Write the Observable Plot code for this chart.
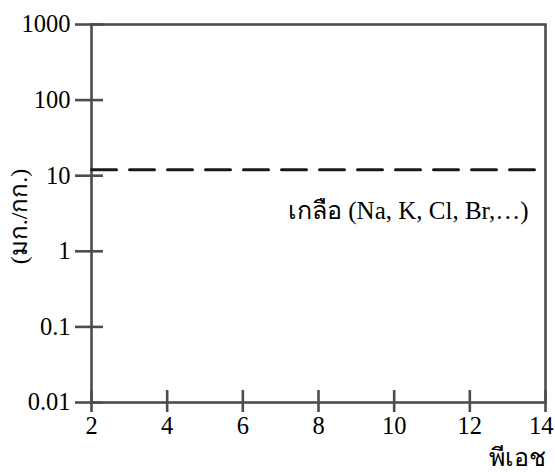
<!DOCTYPE html>
<html>
<head>
<meta charset="utf-8">
<script src="https://cdn.jsdelivr.net/npm/d3@7"></script>
<script src="https://cdn.jsdelivr.net/npm/@observablehq/plot@0.6"></script>
<style>
  html, body { margin: 0; padding: 0; background: #fff; }
  #chart svg { display: block; }
</style>
</head>
<body>
<div id="chart"></div>
<script>
// pH axis ticks
const phTicks = [2, 4, 6, 8, 10, 12, 14];
const phTickLabels = ["2", "4", "6", "8", "10", "12", "14"];

// concentration axis ticks (log scale)
const concTicks = [0.01, 0.1, 1, 10, 100, 1000];
const concTickLabels = ["0.01", "0.1", "1", "10", "100", "1000"];

// salt concentration level, constant across pH
const saltPh = [2, 14];
const saltLevel = [12, 12];
const saltLabel = "เกลือ (Na, K, Cl, Br,…)";

const yTitle = "(มก./กก.)";
const xTitle = "พีเอช";

const saltData = saltPh.map((x, i) => ({x, y: saltLevel[i]}));

const W = 555, H = 472;
const mL = 91, mR = 10, mT = 24, mB = 70;
const fw = W - mL - mR, fh = H - mT - mB;
const axisColor = "#4d4d4d";
const font = "'Liberation Serif', 'Times New Roman', serif";

// the last pH label sits against the right edge, so it is end-anchored
const lastPh = phTicks.length - 1;
const phInner = phTicks.map((x, i) => ({x, label: phTickLabels[i]})).slice(0, lastPh);
const phEdge = [{x: phTicks[lastPh], label: phTickLabels[lastPh]}];

const chart = Plot.plot({
  width: W,
  height: H,
  marginLeft: mL,
  marginRight: mR,
  marginTop: mT,
  marginBottom: mB,
  style: {fontFamily: font, fontSize: "24px", color: "#000", background: "#fff"},
  x: {domain: [2, 14], axis: null},
  y: {type: "log", domain: [0.01, 1000], axis: null},
  marks: [
    Plot.frame({stroke: axisColor, strokeWidth: 2.6}),
    // y tick marks crossing the left axis
    Plot.tickY(concTicks, {y: d => d, stroke: axisColor, strokeWidth: 2.6, insetLeft: -16, insetRight: fw - 12}),
    // x tick marks crossing the bottom axis
    Plot.tickX(phTicks, {x: d => d, stroke: axisColor, strokeWidth: 2.6, insetTop: fh - 12, insetBottom: -10}),
    // tick labels
    Plot.text(concTicks, {y: d => d, frameAnchor: "left", text: (d, i) => concTickLabels[i], textAnchor: "end", lineAnchor: "middle", dx: -21, fontSize: 24.5, fill: "#000"}),
    Plot.text(phInner, {x: "x", frameAnchor: "bottom", text: "label", textAnchor: "middle", lineAnchor: "middle", dy: 24, fontSize: 24.5, fill: "#000"}),
    Plot.text(phEdge, {x: "x", frameAnchor: "bottom", text: "label", textAnchor: "end", lineAnchor: "middle", dx: 8, dy: 24, fontSize: 24.5, fill: "#000"}),
    // salt level
    Plot.line(saltData, {x: "x", y: "y", stroke: "#1a1a1a", strokeWidth: 3, strokeDasharray: "25,13"}),
    Plot.text([saltLabel], {x: 14, y: saltLevel[0], text: d => d, textAnchor: "end", lineAnchor: "middle", dx: -17, dy: 41, fontSize: 25, fill: "#000"}),
    // axis titles
    Plot.text([yTitle], {frameAnchor: "left", text: d => d, rotate: -90, textAnchor: "middle", lineAnchor: "middle", dx: -72, dy: 3, fontSize: 24, fill: "#000"}),
    Plot.text([xTitle], {frameAnchor: "bottom-right", text: d => d, textAnchor: "end", lineAnchor: "middle", dy: 55, fontSize: 25, fill: "#000"})
  ]
});

document.getElementById("chart").appendChild(chart);
</script>
</body>
</html>
